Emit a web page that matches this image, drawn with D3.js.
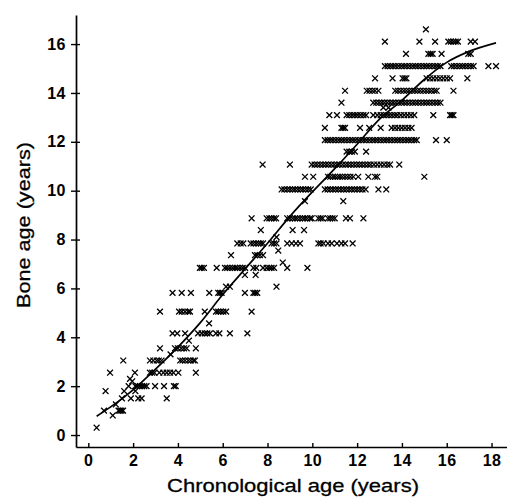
<!DOCTYPE html>
<html><head><meta charset="utf-8">
<script src="https://cdn.jsdelivr.net/npm/d3@7"></script>
<style>
html,body{margin:0;padding:0;background:#fff;}
svg{display:block;font-family:"Liberation Sans",Arial,Helvetica,sans-serif;}
</style></head>
<body>
<svg id="chart" width="507" height="497"></svg>
<script>
// Bone age rows: [bone age level, chronological ages of children at that level]
const rows = [
  [0.3, [0.37]],
  [0.8, [1.09]],
  [1.0, [0.7, 1.35, 1.42, 1.48, 1.55]],
  [1.25, [1.23]],
  [1.5, [1.5, 1.9, 2.23, 2.38, 3.5]],
  [1.8, [0.77, 1.6, 2.1]],
  [2.0, [1.8, 2.1, 2.2, 2.3, 2.4, 2.5, 2.6, 2.98, 3.38, 3.82, 3.9]],
  [2.2, [1.96]],
  [2.3, [1.86]],
  [2.55, [0.97, 2.08, 2.75, 2.85, 2.95, 3.17, 3.35, 3.5, 3.65, 3.8, 4.02, 4.8]],
  [3.05, [1.56, 2.75, 2.9, 3.05, 3.15, 3.27, 4.1, 4.2, 4.32, 4.46, 4.57, 4.69, 4.76]],
  [3.3, [3.67]],
  [3.55, [3.2, 3.87, 4.0, 4.15, 4.27, 4.39, 4.8]],
  [3.86, [4.49]],
  [4.16, [3.76, 3.97, 4.32, 4.9, 5.06, 5.2, 5.31, 5.43, 5.7, 5.85, 6.32, 7.1]],
  [4.57, [5.39]],
  [5.05, [3.2, 4.05, 4.17, 4.32, 4.46, 4.54, 5.2, 5.7, 5.8, 5.91, 6.03, 6.15, 7.29]],
  [5.82, [3.76, 4.17, 4.58, 5.4, 5.8, 5.88, 5.95, 6.99, 7.37, 7.45, 7.54]],
  [6.07, [6.15, 6.32, 8.4]],
  [6.55, [6.99, 7.47]],
  [6.84, [4.98, 5.06, 5.16, 5.73, 6.1, 6.2, 6.32, 6.44, 6.55, 6.65, 6.77, 6.89, 7.0, 7.37, 7.5, 7.8, 7.96, 8.08, 8.18, 8.29, 8.88, 9.78]],
  [7.06, [8.68]],
  [7.36, [6.37, 7.44, 7.54, 7.66, 7.8]],
  [7.55, [8.48]],
  [7.84, [6.65, 6.8, 6.92, 7.25, 7.37, 7.49, 7.6, 7.7, 7.8, 8.18, 8.29, 8.4, 8.88, 9.08, 9.27, 9.45, 10.27, 10.37, 10.5, 10.7, 10.86, 11.1, 11.3, 11.46, 11.8]],
  [8.1, [8.4]],
  [8.39, [7.7, 9.12, 9.63]],
  [8.87, [7.29, 7.96, 8.08, 8.18, 8.29, 8.38, 8.88, 9.0, 9.12, 9.23, 9.33, 9.45, 9.57, 9.67, 9.78, 9.9, 9.97, 10.27, 10.37, 10.46, 10.7, 10.8, 10.9, 11.0, 11.5, 11.68, 12.28]],
  [9.57, [9.67, 11.38]],
  [10.05, [8.63, 8.75, 8.88, 9.0, 9.12, 9.23, 9.35, 9.47, 9.58, 9.7, 9.82, 9.93, 10.56, 10.68, 10.8, 10.92, 11.04, 11.16, 11.28, 11.4, 11.52, 11.64, 11.76, 11.88, 12.0, 12.12, 12.24, 12.38, 12.95, 13.3]],
  [10.57, [9.67, 10.04, 10.7, 10.8, 10.92, 11.02, 11.13, 11.23, 11.34, 11.46, 11.58, 11.7, 11.83, 12.05, 12.5, 12.8, 12.9, 15.0]],
  [11.07, [7.78, 9.0, 9.97, 10.1, 10.22, 10.35, 10.48, 10.6, 10.72, 10.85, 10.98, 11.1, 11.22, 11.35, 11.48, 11.6, 11.72, 11.85, 11.98, 12.1, 12.22, 12.35, 12.48, 12.6, 12.75, 12.9, 13.05, 13.2, 13.35, 13.47, 13.88]],
  [11.6, [11.53, 11.65, 11.77, 11.9, 12.4]],
  [12.07, [10.56, 10.68, 10.8, 10.92, 11.05, 11.18, 11.3, 11.42, 11.55, 11.68, 11.8, 11.92, 12.05, 12.18, 12.3, 12.42, 12.55, 12.68, 12.8, 12.92, 13.05, 13.18, 13.3, 13.42, 13.55, 13.68, 13.8, 13.92, 14.05, 14.18, 14.3, 14.42, 14.55, 14.66, 15.52, 16.0]],
  [12.57, [10.56, 11.3, 11.38, 11.46, 12.13, 12.54, 13.05, 13.54, 13.69, 13.84, 13.99, 14.14, 14.29, 14.43]],
  [13.09, [10.76, 11.1, 11.53, 11.65, 11.78, 11.9, 12.02, 12.15, 12.28, 12.4, 12.72, 12.9, 13.05, 13.18, 13.3, 13.42, 13.55, 13.68, 13.8, 13.95, 14.1, 14.25, 14.4, 14.55, 15.4, 16.15, 16.22, 16.3]],
  [13.4, [13.17, 13.4]],
  [13.6, [11.3, 12.72, 12.85, 12.98, 13.1, 13.22, 13.35, 13.48, 13.6, 13.72, 13.85, 13.98, 14.1, 14.22, 14.35, 14.48, 14.6, 14.72, 14.85, 14.98, 15.1, 15.22, 15.35, 15.48, 15.6, 15.72]],
  [14.09, [11.46, 12.43, 12.55, 12.68, 12.8, 12.95, 13.7, 13.82, 13.95, 14.08, 14.2, 14.32, 14.45, 14.58, 14.7, 14.82, 14.95, 15.08, 15.2, 15.32, 15.45, 15.55, 16.3]],
  [14.6, [12.8, 13.58, 14.03, 14.12, 14.2, 15.1, 15.25, 15.4, 15.55, 15.7, 15.85, 16.0, 16.15, 16.92]],
  [15.1, [13.24, 13.36, 13.48, 13.6, 13.72, 13.85, 13.98, 14.1, 14.22, 14.35, 14.48, 14.6, 14.72, 14.85, 14.98, 15.1, 15.22, 15.35, 15.48, 15.6, 15.72, 16.2, 16.32, 16.45, 16.58, 16.7, 16.82, 16.95, 17.08, 17.2, 17.86, 18.2]],
  [15.6, [14.18, 15.18, 15.28, 15.37, 15.77, 16.96, 17.07]],
  [16.1, [13.24, 14.78, 15.48, 16.07, 16.18, 16.3, 16.4, 16.5, 17.07, 17.26]],
  [16.6, [15.07]]
];

// Fitted curve
const fitAge  = [0.37, 1, 2, 3, 4, 5, 6, 7, 8, 9, 10, 11, 12, 13, 14, 15, 16, 17, 18.2];
const fitBone = [0.77, 1.15, 1.85, 2.7, 3.6, 4.6, 5.75, 6.8, 7.85, 8.95, 9.95, 10.9, 11.9, 12.93, 13.7, 14.55, 15.25, 15.7, 16.05];

const xTicks = [0, 2, 4, 6, 8, 10, 12, 14, 16, 18];
const yTicks = [0, 2, 4, 6, 8, 10, 12, 14, 16];
const xTitle = "Chronological age (years)";
const yTitle = "Bone age (years)";

const points = rows.flatMap(([b, ages]) => ages.map(a => ({age: a, bone: b})));

const svg = d3.select("#chart");
const x = d3.scaleLinear().domain([-0.55, 18.69]).range([76, 507]);
const y = d3.scaleLinear().domain([-0.49, 17.19]).range([447, 15]);

const tickFont = "'Liberation Sans',Arial,sans-serif";

// X axis
const gx = svg.append("g").attr("transform", `translate(0,${y(-0.49)})`)
  .call(d3.axisBottom(x).tickValues(xTicks).tickSizeInner(-4).tickSizeOuter(0).tickPadding(8));
gx.select(".domain").attr("stroke", "#000").attr("stroke-width", 1.7);
gx.selectAll(".tick line").attr("stroke", "#000").attr("stroke-width", 1.4);
gx.selectAll("text").attr("font-size", 16).attr("font-weight", "bold").attr("fill", "#000")
  .attr("font-family", tickFont).attr("letter-spacing", "0.5px");

// Y axis
const gy = svg.append("g").attr("transform", `translate(${x(-0.55)},0)`)
  .call(d3.axisLeft(y).tickValues(yTicks).tickSizeInner(5).tickSizeOuter(0).tickPadding(5));
gy.select(".domain").attr("stroke", "#000").attr("stroke-width", 1.7);
gy.selectAll(".tick line").attr("stroke", "#000").attr("stroke-width", 1.4).attr("x1", 4);
gy.selectAll("text").attr("font-size", 16).attr("font-weight", "bold").attr("fill", "#000")
  .attr("font-family", tickFont).attr("letter-spacing", "0.5px");

// Points
const s = 2.9;
svg.append("g").selectAll("path").data(points).join("path")
  .attr("transform", d => `translate(${x(d.age)},${y(d.bone)})`)
  .attr("d", `M${-s},${-s}L${s},${s}M${-s},${s}L${s},${-s}`)
  .attr("stroke", "#000").attr("stroke-width", 1.3).attr("fill", "none");

// Curve
const line = d3.line().x(d => x(d[0])).y(d => y(d[1])).curve(d3.curveMonotoneX);
svg.append("path").datum(fitAge.map((a, i) => [a, fitBone[i]]))
  .attr("d", line).attr("fill", "none").attr("stroke", "#000").attr("stroke-width", 1.7);

// Titles
svg.append("text").attr("x", 293).attr("y", 492).attr("text-anchor", "middle")
  .attr("font-size", 19).attr("font-weight", 500).attr("fill", "#000")
  .attr("stroke", "#000").attr("stroke-width", 0.3)
  .attr("textLength", 252).attr("lengthAdjust", "spacingAndGlyphs").text(xTitle);
svg.append("text").attr("transform", "translate(30,225) rotate(-90)").attr("text-anchor", "middle")
  .attr("font-size", 19).attr("font-weight", 500).attr("fill", "#000")
  .attr("stroke", "#000").attr("stroke-width", 0.3)
  .attr("textLength", 166).attr("lengthAdjust", "spacingAndGlyphs").text(yTitle);
</script>
</body></html>
